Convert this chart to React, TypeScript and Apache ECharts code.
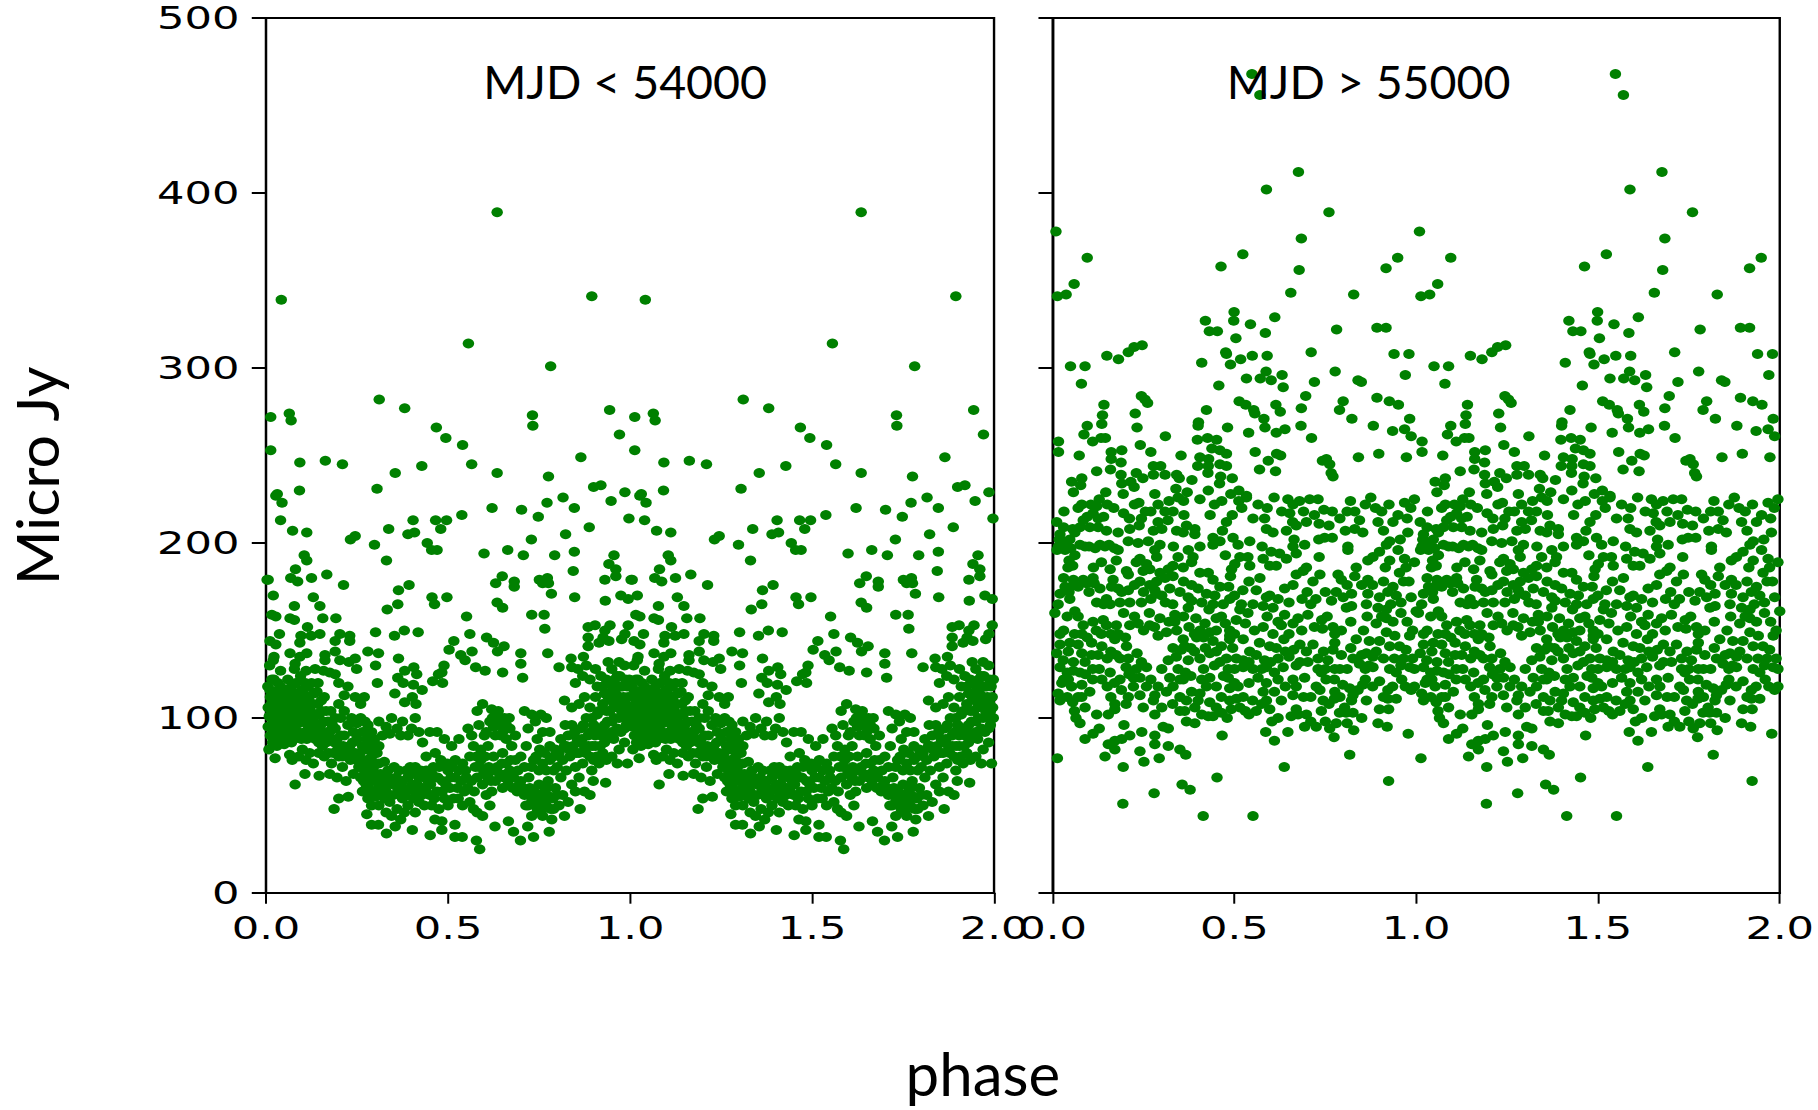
import React, { useEffect, useRef } from "react";
import * as echarts from "echarts";

const STRETCH = 1.33;
const yTicks = [0, 100, 200, 300, 400, 500];
const panelLabels = ["MJD < 54000", "MJD > 55000"];

const leftHigh: number[][] = [[.042,339],[.635,389],[.556,314],[.895,341],[.782,301],[.013,272],[.064,274],[.069,270],[.311,282],[.381,277],[.468,266],[.494,260],[.54,256],[.732,273],[.733,267],[.944,276],[.971,262],[.013,253],[.163,247],[.865,249],[.093,246],[.21,245],[.565,245],[.031,228],[.092,230],[.305,231],[.355,240],[.428,244],[.635,240],[.816,226],[.9,232],[.92,233],[.986,229],[.027,227],[.776,238],[.948,224]];
const leftUpper: number[][] = [[.044,223],[.04,213],[.073,207],[.112,206],[.232,202],[.245,204],[.298,199],[.337,208],[.331,190],[.39,205],[.408,206],[.404,213],[.466,213],[.496,213],[.48,208],[.538,216],[.443,200],[.455,196],[.47,196],[.599,194],[.621,220],[.702,219],[.748,215],[.772,223],[.847,220],[.888,209],[.823,205],[.729,202],[.664,196],[.707,193],[.793,193],[.847,195],[.997,214],[.956,193],[.942,188],[.961,185],[.961,181],[.931,179],[.003,179],[.844,184],[.848,169],[.932,167],[.975,170],[.995,168],[.02,170],[.105,193],[.112,190],[.081,185],[.068,180],[.087,178],[.125,180],[.167,182],[.213,176],[.006,179],[.13,169],[.078,164],[.148,164],[.156,157],[.192,157],[.066,157],[.078,156],[.016,159],[.027,158],[.114,152],[.037,148],[.096,147],[.124,147],[.148,148],[.093,143],[.011,144],[.027,142],[.203,148],[.23,147],[.23,144],[.19,144],[.19,138],[.066,137],[.112,137],[.093,135],[.022,135],[.02,133],[.162,136],[.162,133],[.203,133],[.245,134],[.228,132],[.249,128],[.28,138],[.309,137],[.301,130],[.306,120],[.364,134],[.381,127],[.406,129],[.414,125],[.362,123],[.377,120],[.405,119],[.429,116],[.354,114],[.402,112],[.381,109],[.412,108],[.301,149],[.353,147],[.38,150],[.418,149],[.333,162],[.362,165],[.364,173],[.393,176],[.456,169],[.497,169],[.463,165],[.551,158],[.635,166],[.631,177],[.649,181],[.682,178],[.682,175],[.65,163],[.73,159],[.764,159],[.766,151],[.751,179],[.773,180],[.76,177],[.776,177],[.784,171],[.56,148],[.516,144],[.503,139],[.535,136],[.566,138],[.547,133],[.576,129],[.602,127],[.606,146],[.625,143],[.636,138],[.654,141],[.7,137],[.774,137],[.7,131],[.65,126],[.705,123],[.489,130],[.483,126],[.474,125],[.458,121],[.485,120],[.805,129],[.838,134],[.84,129],[.857,128],[.872,135],[.885,152],[.904,153],[.945,153],[.931,150],[.995,153],[.986,148],[.977,145],[.885,146],[.885,141],[.915,143],[.926,146],[.942,144],[.01,130],[.04,127],[.08,131],[.11,127],[.135,128],[.158,127],[.175,126],[.19,125],[.2,120],[.225,118],[.215,113],[.245,112],[.27,112],[.26,108]];
const leftLowest: number[][] = [[.587,25],[.578,30],[.699,30],[.735,32],[.778,35],[.68,35],[.629,38],[.666,41],[.719,38],[.519,39],[.519,32],[.539,32],[.451,33],[.402,36],[.331,34],[.483,36],[.483,41],[.464,42],[.309,39],[.29,39],[.277,45],[.187,48],[.2,54],[.226,55],[.08,62],[.107,68],[.146,67],[.072,76],[.025,77],[.863,48],[.933,63],[.899,64],[.993,74]];
const leftDense: number[][] = [
[.005,118],[.012,112],[.006,106],[.014,100],[.006,95],[.012,90],[.018,86],[.008,82],[.022,122],[.026,115],[.024,108],[.03,103],[.028,97],[.034,92],[.038,88],[.03,84],[.04,118],[.045,112],[.042,106],[.05,100],[.046,95],[.052,90],[.05,85],[.06,122],[.058,115],[.062,108],[.066,102],[.06,96],[.068,92],[.07,86],[.078,128],[.082,120],[.08,114],[.086,108],[.084,102],[.09,97],[.088,92],[.095,124],[.098,116],[.1,110],[.104,104],[.1,98],[.108,92],[.112,88],[.116,118],[.118,110],[.122,104],[.125,98],[.13,92],[.135,88],[.14,115],[.142,108],[.146,102],[.15,96],[.156,90],[.16,112],[.165,104],[.17,98],[.175,92],[.165,86],[.18,88],[.19,94],[.195,88],[.2,84],[.015,108],[.035,110],[.055,104],[.075,100],[.095,104],[.115,96],[.135,102],[.155,84],[.145,80],[.12,80],[.1,82],[.09,78],[.065,79],[.11,76],[.13,74],[.16,78],[.18,74],[.175,68],[.2,78],[.21,72],[.195,66],[.22,64],[.24,68],[.215,90],[.23,84],[.205,100],[.225,96],[.24,92],[.25,88],[.265,92],[.28,96],[.26,100],[.245,80],[.26,76],[.27,82],
[.255,72],[.26,66],[.27,70],[.275,62],[.28,76],[.285,68],[.29,58],[.295,72],[.3,64],[.305,80],[.31,74],[.315,68],[.32,60],[.265,58],[.28,54],[.29,50],[.3,55],[.31,50],[.325,75],[.335,70],[.345,64],[.33,58],[.35,56],[.34,52],[.36,48],[.33,46],[.345,44],[.37,42],[.355,38],[.31,84],[.32,90],[.31,98],[.33,95],[.345,100],[.34,91],[.36,94],[.37,90],[.375,98],[.39,90],[.4,94],[.41,100],[.42,92],
[.365,70],[.375,64],[.385,70],[.395,60],[.4,68],[.41,72],[.42,66],[.43,60],[.44,70],[.445,64],[.45,56],[.46,72],[.465,66],[.47,58],[.48,76],[.485,64],[.49,54],[.5,70],[.505,60],[.52,66],[.515,54],[.375,54],[.39,50],[.405,54],[.42,52],[.435,50],[.455,50],[.475,48],[.5,50],[.38,46],[.41,46],[.44,78],[.43,86],[.45,92],[.465,80],[.47,92],[.49,88],[.51,84],[.53,88],[.52,76],[.54,74],[.55,66],[.545,58],[.56,52],[.54,50],[.57,48],[.58,46],[.595,44],[.56,78],[.575,72],[.57,84],[.555,94],[.565,90],[.59,76],[.6,70],[.595,62],[.605,56],[.61,66],[.62,58],[.615,50],[.63,64],[.635,72],[.625,78],[.61,84],[.6,90],[.585,96],[.58,104],[.595,108],[.62,105],
[.605,92],[.615,98],[.625,95],[.635,102],[.645,96],[.655,100],[.645,90],[.66,88],[.67,94],[.675,84],[.685,90],[.65,80],[.66,74],[.67,70],[.65,60],[.665,62],[.68,66],[.685,76],[.69,58],[.7,64],[.71,72],[.7,78],[.715,84],[.72,94],[.71,104],[.73,102],[.74,98],[.755,102],[.77,100],[.745,88],[.76,92],[.78,92],[.735,76],[.75,70],[.765,80],[.78,76],[.795,82],[.8,72],
[.71,56],[.72,50],[.725,60],[.73,44],[.74,54],[.745,48],[.75,62],[.755,52],[.76,44],[.765,58],[.77,50],[.775,64],[.78,55],[.79,48],[.795,60],[.785,42],[.805,50],[.815,56],[.82,44],[.83,52],[.81,66],[.825,70],[.84,62],[.85,58],[.86,66],[.875,58],[.89,56],
[.82,84],[.83,90],[.835,78],[.84,96],[.85,72],[.855,88],[.86,80],[.865,94],[.87,74],[.875,84],[.88,100],[.885,90],[.89,78],[.895,70],[.9,96],[.905,84],[.91,102],[.915,74],[.92,90],[.925,80],[.93,96],[.82,110],[.84,106],[.86,108],[.875,112],[.89,106],[.905,112],[.85,120],[.87,124],[.89,122],[.91,118],[.88,130],[.905,128],[.92,124],
[.935,104],[.94,112],[.945,120],[.95,98],[.955,106],[.96,114],[.965,124],[.97,100],[.975,108],[.98,118],[.985,94],[.99,104],[.995,112],[.998,122],[.94,90],[.955,88],[.97,82],[.985,86],[.95,78],[.965,74],[.935,76],[.95,128],[.97,132],[.985,130],[.94,132]
];
const leftClusterA: number[][] = [[.011,116],[.019,111],[.025,104],[.017,96],[.022,92],[.034,99],[.04,103],[.048,108],[.054,112],[.037,113],[.067,111],[.073,105],[.071,97],[.077,94],[.083,89],[.092,112],[.09,106],[.108,113],[.112,107],[.106,100],[.118,101],[.128,108],[.132,114],[.13,98],[.137,94],[.147,92],[.152,104],[.157,98],[.152,110],[.143,120],[.125,120],[.108,120],[.07,118],[.033,120],[.016,122],[.009,101],[.04,94],[.058,90],[.077,88],[.097,88],[.122,90],[.145,86],[.168,92],[.182,96],[.188,86],[.172,80],[.185,80],[.197,82],[.205,90],[.212,84],[.21,78],[.222,80],[.232,76],[.238,86],[.25,76],[.19,100],[.178,104],[.2,108],[.215,104],[.235,100],[.25,97],[.272,98],[.29,92],[.298,88],[.278,88],[.29,84],[.265,84]];
const leftClusterC: number[][] = [[.258,80],[.268,76],[.274,72],[.282,82],[.29,78],[.296,80],[.302,74],[.268,64],[.282,60],[.292,64],[.304,68],[.31,60],[.316,56],[.326,64],[.334,62],[.326,54],[.338,66],[.35,62],[.358,66],[.352,72],[.362,60],[.368,56],[.374,60],[.382,56],[.39,66],[.396,72],[.402,62],[.408,58],[.415,62],[.425,70],[.428,56],[.436,66],[.44,58],[.452,62],[.456,68],[.462,54],[.472,66],[.476,72],[.484,58],[.494,62],[.498,74],[.508,66],[.512,72],[.526,60],[.53,70],[.536,64],[.528,54],[.548,70],[.554,60],[.564,64],[.572,58],[.58,66],[.586,72],[.578,78],[.59,82],[.598,68],[.602,78],[.612,72],[.618,64],[.626,70],[.642,68],[.648,74],[.654,66],[.66,68],[.672,76],[.678,60],[.692,70],[.696,62],[.706,60],[.622,100],[.63,90],[.64,98],[.65,92],[.638,104],[.66,96],[.668,100]];
const leftClusterG: number[][] = [[.714,50],[.722,56],[.73,52],[.736,58],[.744,52],[.75,56],[.755,46],[.762,50],[.768,54],[.772,60],[.782,48],[.788,54],[.8,56],[.722,66],[.73,72],[.742,78],[.752,82],[.76,74],[.77,70],[.78,84],[.79,78],[.79,70],[.805,80],[.815,76],[.81,88],[.825,84],[.822,96],[.832,82],[.843,84],[.848,92],[.852,80],[.86,86],[.868,88],[.872,96],[.878,80],[.885,84],[.892,92],[.896,84],[.9,76],[.904,90],[.908,78],[.912,94],[.918,84],[.925,92],[.93,86],[.895,100],[.915,104],[.925,108],[.93,114],[.938,98],[.944,104],[.948,110],[.952,116],[.957,100],[.962,108],[.966,118],[.97,112],[.974,118],[.977,104],[.982,112],[.985,100],[.988,108],[.992,118],[.996,106],[.998,100],[.942,120],[.958,122],[.972,124],[.988,122],[.935,122],[.925,118],[.95,92],[.965,94],[.975,92],[.99,96]];

const rightHigh: number[][] = [[.548,468],[.57,456],[.676,412],[.588,402],[.76,389],[.009,378],[.684,374],[.095,363],[.523,365],[.463,358],[.949,363],[.917,357],[.678,356],[.059,348],[.037,342],[.013,341],[.655,343],[.828,342],[.499,332],[.498,327],[.42,327],[.431,321],[.453,321],[.544,325],[.611,329],[.585,320],[.504,317],[.781,322],[.892,323],[.917,323],[.246,313],[.224,312],[.208,309],[.149,307],[.181,305],[.049,301],[.089,301],[.079,291],[.41,303],[.476,309],[.478,308],[.517,305],[.489,302],[.549,307],[.59,307],[.711,309],[.939,308],[.98,308],[.587,298],[.571,294],[.601,293],[.533,294],[.631,296],[.634,289],[.457,290],[.777,298],[.72,292],[.84,293],[.849,292],[.97,296],[.696,284],[.244,284],[.254,282],[.261,280],[.141,279],[.227,274],[.137,273],[.135,268],[.095,267],[.086,262],[.11,258],[.133,260],[.145,260],[.232,266],[.31,261],[.016,258],[.016,252],[.073,250],[.161,252],[.19,253],[.161,248],[.241,256],[.27,252],[.188,246],[.423,276],[.401,269],[.4,267],[.481,266],[.513,281],[.531,279],[.553,276],[.556,274],[.581,271],[.584,266],[.539,263],[.615,263],[.639,265],[.614,279],[.626,275],[.684,277],[.683,267],[.712,260],[.799,281],[.789,276],[.823,271],[.892,283],[.926,281],[.951,279],[.982,271],[.882,267],[.935,264],[.968,265],[.986,261],[.398,259],[.426,260],[.451,259],[.438,254],[.46,253],[.478,251],[.405,249],[.429,248],[.399,244],[.428,244],[.427,240],[.46,245],[.478,244],[.462,238],[.459,234],[.494,237],[.557,252],[.616,251],[.627,250],[.593,247],[.569,242],[.613,241],[.742,247],[.753,248],[.762,245],[.766,240],[.771,238],[.841,249],[.897,251],[.973,249],[.277,244],[.297,244],[.277,239],[.309,239],[.353,250],[.23,240],[.248,237],[.188,239],[.121,241],[.159,242],[.341,239],[.348,237],[.383,236],[.08,237],[.052,235],[.077,233],[.057,229],[.146,229],[.19,234],[.215,235],[.194,228],[.224,232],[.281,228],[.339,231],[.428,230],[.37,229],[.512,230],[.533,227]];
const rightMidA: number[][] = [[.031,218],[.08,222],[.07,220],[.128,225],[.121,221],[.111,217],[.125,214],[.168,220],[.237,223],[.211,214],[.244,214],[.238,210],[.32,224],[.309,218],[.331,218],[.361,216],[.433,216],[.494,216],[.478,212],[.533,226],[.512,224],[.609,226],[.647,225],[.661,222],[.679,224],[.707,225],[.73,225],[.652,217],[.551,214],[.583,214],[.746,219],[.769,218],[.819,224],[.831,218],[.888,220],[.968,223],[.995,225],[.844,213],[.895,212],[.936,212],[.084,213],[.102,209],[.125,209],[.148,207],[.18,206],[.212,208],[.29,212],[.317,213],[.277,207],[.3,208],[.341,207],[.368,210],[.391,208],[.359,206],[.391,205],[.441,203],[.467,207],[.496,203],[.51,199],[.441,199],[.46,201],[.542,201],[.576,198],[.588,208],[.606,206],[.643,207],[.67,210],[.698,212],[.733,211],[.664,202],[.693,199],[.732,202],[.748,203],[.769,203],[.805,207],[.831,208],[.853,206],[.91,207],[.977,206],[.927,201],[.956,202],[.918,199],[.812,198],[.812,196],[.018,202],[.055,208],[.011,212],[.02,202],[.016,198],[.047,202],[.061,206],[.075,209],[.034,196],[.061,193],[.089,198],[.117,197],[.144,198],[.18,196],[.208,201],[.235,200],[.263,201],[.295,199],[.332,198],[.405,198],[.24,191],[.258,188],[.281,196],[.286,192],[.267,185],[.23,189],[.175,190],[.134,189],[.112,186],[.042,186],[.158,185],[.203,184],[.208,182],[.249,184],[.345,192],[.331,187],[.359,186],[.373,196],[.386,192],[.382,189],[.475,193],[.515,192],[.537,192],[.501,188],[.492,185],[.489,181],[.542,187],[.579,191],[.597,187],[.615,187],[.601,195],[.624,194],[.643,191],[.67,194],[.661,198],[.733,192],[.698,186],[.689,184],[.67,182],[.735,182],[.716,178],[.785,182],[.794,179],[.831,181],[.835,186],[.867,179],[.867,190],[.881,192],[.899,195],[.927,190],[.915,186],[.968,191],[.995,189],[.95,196],[.972,186],[.954,183],[.405,183],[.428,183],[.441,179],[.318,185],[.295,183],[.309,180],[.286,178],[.267,176],[.331,181]];
const rightMidB: number[][] = [[.02,171],[.034,175],[.057,179],[.084,179],[.111,180],[.057,176],[.07,175],[.093,177],[.114,177],[.166,179],[.162,175],[.18,174],[.208,173],[.281,173],[.284,171],[.322,174],[.382,176],[.4,174],[.423,171],[.446,170],[.484,175],[.523,173],[.56,173],[.597,170],[.588,169],[.638,174],[.661,176],[.686,168],[.724,168],[.767,167],[.799,169],[.822,171],[.867,171],[.922,172],[.899,169],[.986,169],[.936,175],[.373,169],[.382,167],[.487,168],[.047,168],[.148,168],[.121,166],[.158,165],[.185,166],[.212,166],[.244,166],[.31,166],[.373,163],[.441,165],[.469,165],[.519,165],[.551,165],[.579,164],[.606,163],[.808,163],[.822,164],[.863,165],[.958,166],[.895,163],[.918,162],[.006,160],[.061,161],[.07,158],[.084,153],[.111,155],[.08,148],[.139,156],[.148,153],[.175,153],[.134,148],[.18,148],[.171,145],[.212,153],[.235,154],[.266,160],[.267,153],[.295,157],[.336,159],[.336,155],[.341,150],[.313,149],[.29,147],[.394,157],[.419,154],[.405,150],[.432,149],[.45,157],[.464,158],[.487,150],[.505,156],[.515,162],[.537,160],[.579,152],[.629,153],[.638,159],[.661,154],[.675,157],[.702,159],[.74,156],[.742,151],[.771,152],[.794,150],[.776,148],[.89,154],[.918,149],[.936,155],[.958,160],[1.0,161],[.918,157],[.606,148],[.487,147],[.982,147],[.941,147]];
const rightLow: number[][] = [[.02,142],[.047,143],[.07,142],[.107,143],[.135,141],[.203,141],[.011,137],[.043,138],[.08,137],[.107,136],[.029,133],[.057,132],[.089,132],[.02,129],[.057,127],[.185,134],[.208,134],[.232,137],[.244,132],[.258,129],[.202,129],[.318,133],[.128,128],[.158,126],[.135,122],[.331,140],[.359,145],[.363,141],[.354,139],[.396,146],[.441,144],[.464,141],[.487,145],[.524,145],[.569,143],[.597,141],[.615,140],[.636,145],[.663,139],[.698,138],[.716,142],[.776,143],[.771,139],[.794,136],[.835,145],[.871,144],[.899,144],[.927,141],[.954,141],[.972,139],[.863,137],[.881,135],[.826,134],[.844,131],[.373,133],[.405,134],[.432,137],[.45,138],[.478,134],[.505,134],[.542,138],[.524,133],[.583,133],[.62,134],[.67,130],[.702,132],[.73,134],[.757,133],[.588,129],[.634,129],[.483,128],[.524,129],[.551,128],[.739,126],[.776,128],[.927,128],[.958,130],[.982,129],[.881,129],[.365,126],[.61,126],[.025,120],[.043,122],[.015,114],[.02,110],[.052,118],[.055,109],[.08,119],[.102,115],[.08,112],[.089,106],[.121,102],[.153,102],[.171,108],[.171,105],[.185,122],[.189,116],[.208,112],[.202,108],[.222,123],[.24,123],[.222,118],[.24,113],[.249,106],[.258,118],[.277,110],[.281,102],[.29,118],[.322,123],[.313,115],[.281,113],[.331,118],[.359,122],[.35,112],[.368,110],[.363,104],[.391,106],[.382,115],[.405,114],[.432,123],[.423,118],[.432,109],[.464,112],[.483,123],[.487,117],[.487,110],[.505,111],[.524,112],[.515,106],[.491,105],[.464,103],[.441,101],[.428,101],[.565,123],[.588,120],[.579,115],[.588,110],[.56,104],[.597,105],[.629,110],[.661,113],[.67,118],[.661,122],[.693,123],[.725,118],[.752,122],[.775,122],[.798,119],[.817,117],[.826,113],[.776,115],[.744,110],[.775,111],[.822,110],[.863,110],[.853,119],[.899,121],[.922,116],[.945,111],[.922,111],[.986,116],[.899,105],[.924,105],[.67,105],[.656,101],[.675,102],[.698,102],[.739,104],[.789,103],[.807,103],[.826,103],[.803,106],[.064,100],[.075,97],[.128,94],[.111,91],[.089,88],[.196,96],[.212,90],[.19,88],[.171,87],[.153,85],[.171,82],[.245,92],[.281,90],[.304,95],[.318,94],[.281,85],[.318,84],[.24,81],[.35,82],[.366,79],[.293,77],[.251,75],[.144,78],[.194,72],[.013,77],[.368,98],[.391,97],[.466,90],[.586,92],[.61,87],[.647,92],[.603,98],[.693,95],[.725,95],[.762,94],[.774,89],[.828,93],[.817,79],[.895,97],[.92,95],[.978,91],[.637,72],[.452,66],[.924,64],[.356,62],[.378,59],[.279,57],[.193,51],[.414,44],[.551,44]];
const rightChains: number[][] = [[.012,196],[.025,199],[.035,200],[.05,197],[.075,199],[.1,198],[.13,199],[.155,199],[.17,197],[.045,190],[.055,187],[.02,205],[.03,209],[.095,215],[.105,222],[.14,215],[.15,222],[.195,217],[.225,222],[.255,218],[.27,218],[.29,222],[.345,226],[.36,224],[.405,225],[.445,222],[.465,224],[.49,228],[.52,220],[.565,222],[.59,220],[.63,218],[.66,212],[.69,218],[.72,216],[.76,210],[.79,214],[.81,218],[.86,222],[.875,226],[.905,218],[.925,222],[.95,216],[.975,214],[.985,220],[.03,180],[.045,172],[.015,165],[.1,172],[.13,174],[.14,165],[.19,172],[.225,176],[.24,178],[.25,172],[.27,168],[.3,170],[.33,165],[.35,172],[.36,178],[.41,166],[.43,162],[.46,175],[.5,170],[.54,178],[.57,180],[.62,168],[.65,166],[.7,172],[.71,165],[.75,172],[.78,172],[.81,176],[.85,176],[.88,176],[.91,178],[.945,170],[.965,178],[.98,178],[.12,150],[.16,148],[.195,160],[.2,146],[.225,158],[.25,150],[.28,152],[.32,155],[.36,158],[.375,152],[.39,148],[.415,146],[.45,150],[.475,154],[.5,148],[.53,154],[.555,150],[.59,158],[.62,155],[.65,148],[.685,150],[.72,152],[.755,158],[.82,155],[.855,150],[.865,158],[.905,158],[.93,165],[.975,155],[.99,150],[.03,150],[.04,158],[.02,148],[.06,148],[.095,146],[.16,138],[.175,136],[.125,136],[.15,134],[.09,125],[.11,128],[.075,126],[.04,126],[.03,122],[.07,112],[.11,122],[.15,118],[.17,120],[.16,112],[.04,112],[.06,104],[.21,125],[.23,128],[.27,122],[.3,128],[.345,128],[.34,135],[.39,138],[.38,140],[.42,140],[.415,128],[.445,130],[.46,132],[.5,128],[.495,140],[.54,132],[.56,136],[.575,128],[.6,132],[.64,138],[.65,135],[.68,132],[.68,142],[.73,128],[.745,138],[.75,128],[.79,128],[.81,128],[.82,140],[.85,136],[.86,128],[.87,130],[.89,138],[.91,134],[.94,134],[.945,126],[.965,134],[.99,134],[.995,128],[.3,106],[.33,108],[.35,104],[.35,122],[.38,124],[.41,122],[.45,118],[.47,124],[.5,120],[.51,118],[.54,120],[.55,110],[.53,104],[.575,108],[.61,115],[.62,122],[.64,118],[.69,112],[.71,112],[.735,116],[.76,108],[.79,112],[.84,116],[.86,122],[.88,118],[.91,112],[.935,118],[.96,122],[.97,118],[.995,118],[.41,102],[.4,110],[.45,106],[.48,100],[.54,102],[.62,100],[.71,98],[.75,98],[.78,97],[.81,97],[.85,100]];

const leftOnePeriod = [...leftHigh, ...leftUpper, ...leftLowest, ...leftDense, ...leftClusterA, ...leftClusterC, ...leftClusterG];
const rightOnePeriod = [...rightHigh, ...rightMidA, ...rightMidB, ...rightLow, ...rightChains];
const twoPeriods = (pts: number[][]) => [...pts, ...pts.map(([p, v]) => [p + 1, v])];

const FONT = "DejaVu Sans";
const LATO = "Lato";

const xAxis = (gridIndex: number) => ({
  type: "value" as const, gridIndex, min: 0, max: 2, interval: 0.5,
  splitLine: { show: false },
  axisLine: { onZero: false, lineStyle: { color: "#000", width: 2.2 } },
  axisTick: { length: 10.7, lineStyle: { color: "#000", width: 1.5 } },
  axisLabel: { color: "#000", fontFamily: FONT, fontSize: 32.5, margin: 18, formatter: (v: number) => v.toFixed(1), hideOverlap: false },
});
const yAxis = (gridIndex: number, labels: boolean) => ({
  type: "value" as const, gridIndex, min: 0, max: 500, interval: 100,
  splitLine: { show: false },
  axisLine: { onZero: false, lineStyle: { color: "#000", width: 1.6 } },
  axisTick: { length: 10.7, lineStyle: { color: "#000", width: 2 } },
  axisLabel: { show: labels, color: "#000", fontFamily: FONT, fontSize: 32.5, margin: 20, customValues: yTicks },
});
const scatter = (index: number, pts: number[][]) => ({
  type: "scatter" as const, xAxisIndex: index, yAxisIndex: index,
  data: twoPeriods(pts), symbol: "circle", symbolSize: [8.6, 9.8],
  itemStyle: { color: "#008000", opacity: 1 }, clip: true, silent: true,
});
const overlay = (text: string, x: number, y: number, size: number) => ({
  type: "text" as const, x, y, scaleX: 1 / STRETCH, z: 50, silent: true,
  style: { text, font: `${size}px ${LATO}`, fill: "#000", textAlign: "center", textVerticalAlign: "middle" },
});

export default function App() {
  const ref = useRef<HTMLDivElement>(null);
  useEffect(() => {
    document.body.style.margin = "0";
    const chart = echarts.init(ref.current!, undefined, { renderer: "svg" });
    chart.setOption({
      animation: false,
      backgroundColor: "#fff",
      grid: [
        { left: 200, top: 18, width: 547.4, height: 875, show: true, borderColor: "#000", borderWidth: 1.8, backgroundColor: "transparent" },
        { left: 791.5, top: 18, width: 547.4, height: 875, show: true, borderColor: "#000", borderWidth: 1.8, backgroundColor: "transparent" },
      ],
      xAxis: [xAxis(0), xAxis(1)],
      yAxis: [yAxis(0, true), yAxis(1, false)],
      series: [scatter(0, leftOnePeriod), scatter(1, rightOnePeriod)],
      graphic: [
        overlay(panelLabels[0], 470, 81, 46.5),
        overlay(panelLabels[1], 1029, 81, 46.5),
        overlay("phase", 739, 1073, 60),
        {
          type: "text", x: 27.5, y: 476, rotation: Math.PI / 2, scaleY: 1 / STRETCH, z: 50, silent: true,
          style: { text: "Micro Jy", font: `59px ${LATO}`, fill: "#000", textAlign: "center", textVerticalAlign: "middle" },
        },
      ],
    });
    return () => chart.dispose();
  }, []);
  return (
    <div style={{ position: "absolute", left: 0, top: 0, width: 1818, height: 1110, overflow: "hidden" }}>
      <div ref={ref} style={{ width: 1818 / STRETCH, height: 1110, transform: `scaleX(${STRETCH})`, transformOrigin: "0 0" }} />
    </div>
  );
}
